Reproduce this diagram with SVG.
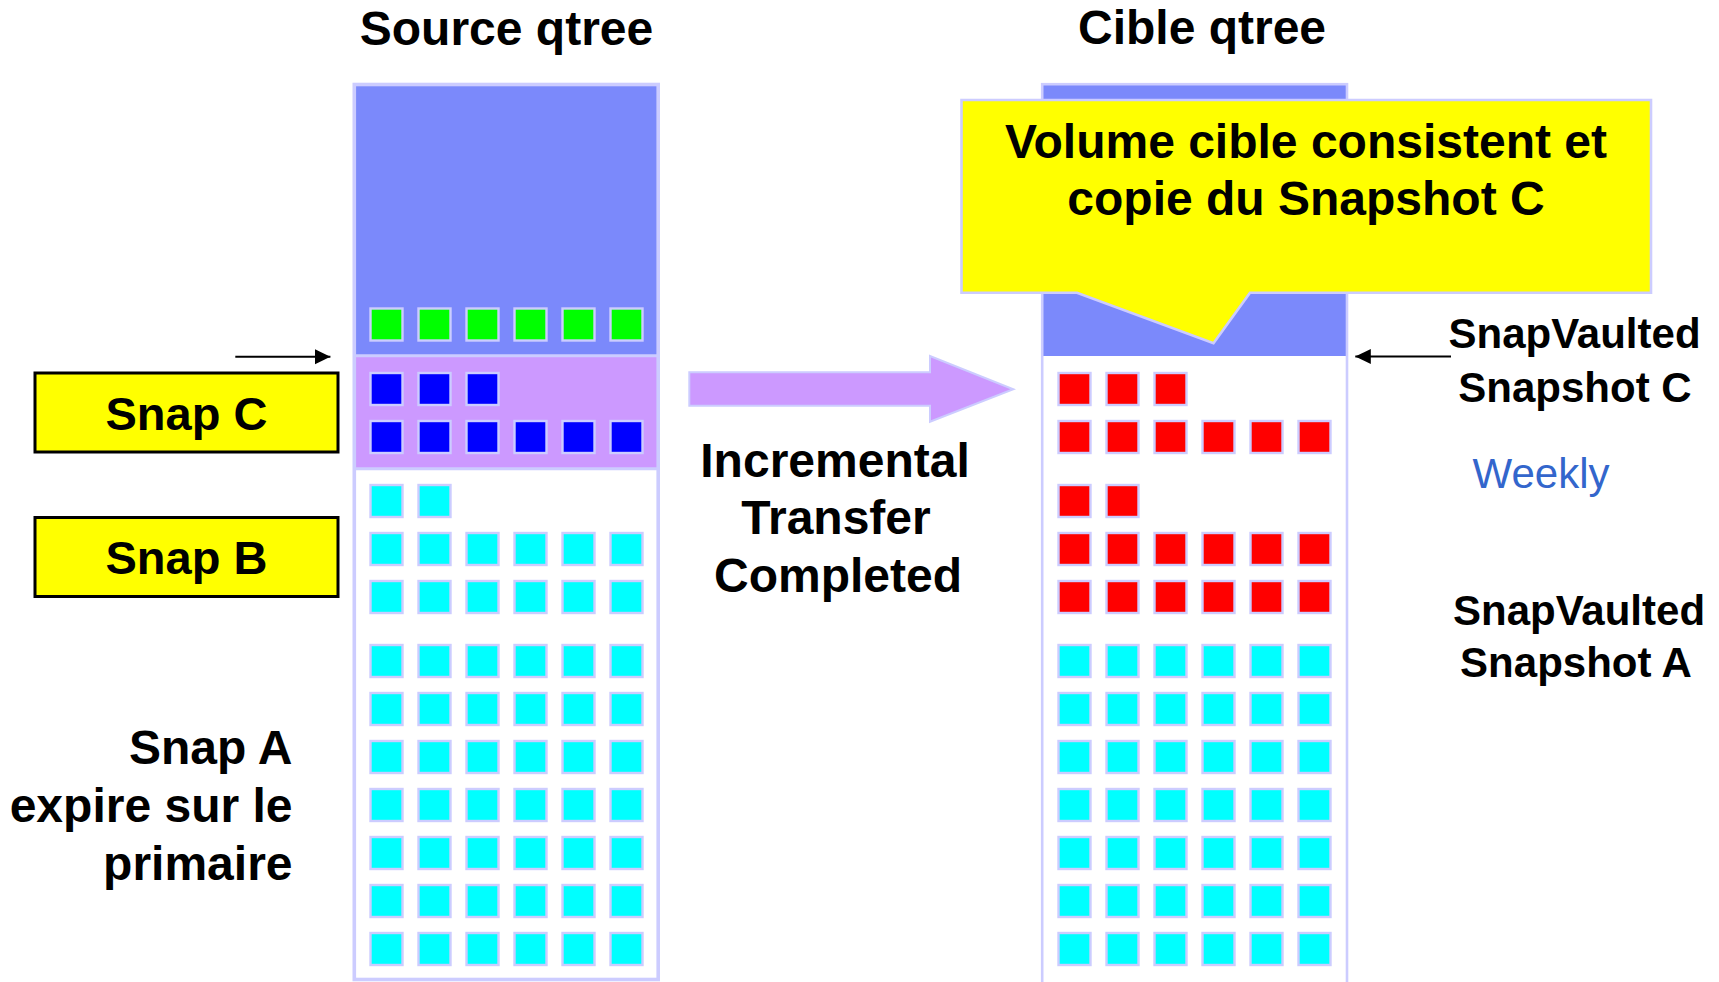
<svg xmlns="http://www.w3.org/2000/svg" xmlns:xlink="http://www.w3.org/1999/xlink" width="1719" height="982" viewBox="0 0 1719 982">
<style>
  .t { font-family: "Liberation Sans", Arial, sans-serif; font-weight: bold; fill: #000; }
  .t48 { font-size: 48px; }
  .t42 { font-size: 42px; }
  .weekly { font-family: "Liberation Sans", Arial, sans-serif; font-size: 42px; fill: #3366cc; }
  .sq rect { stroke: #ccccff; stroke-width: 2.4; }
  .col { fill: none; stroke: #ccccff; }
  .label { fill: #ffff00; stroke: #000; stroke-width: 3; }
  .conn { stroke: #000; stroke-width: 2; fill: none; }
</style>
<defs>
  <g id="row6" class="sq">
    <rect x="0" y="0" width="32" height="32"/>
    <rect x="48" y="0" width="32" height="32"/>
    <rect x="96" y="0" width="32" height="32"/>
    <rect x="144" y="0" width="32" height="32"/>
    <rect x="192" y="0" width="32" height="32"/>
    <rect x="240" y="0" width="32" height="32"/>
  </g>
  <g id="row3" class="sq">
    <rect x="0" y="0" width="32" height="32"/>
    <rect x="48" y="0" width="32" height="32"/>
    <rect x="96" y="0" width="32" height="32"/>
  </g>
  <g id="row2" class="sq">
    <rect x="0" y="0" width="32" height="32"/>
    <rect x="48" y="0" width="32" height="32"/>
  </g>
  <marker id="ah" markerUnits="userSpaceOnUse" markerWidth="16" markerHeight="16" refX="15.5" refY="7.5" orient="auto">
    <path d="M0,0 L15.5,7.5 L0,15 Z" fill="#000"/>
  </marker>
</defs>
<rect width="1719" height="982" fill="#fff"/>

<!-- titles -->
<text class="t t48" x="506.5" y="45" text-anchor="middle">Source qtree</text>
<text class="t t48" x="1202" y="44" text-anchor="middle">Cible qtree</text>

<!-- source column -->
<g id="source-qtree">
  <rect x="354.3" y="84.5" width="303.9" height="271.5" fill="#7b89fb"/>
  <rect x="354.3" y="356" width="303.9" height="112.5" fill="#cc99ff"/>
  <line x1="354.3" y1="355.8" x2="658.2" y2="355.8" stroke="#ccccff" stroke-width="3"/>
  <line x1="354.3" y1="468.7" x2="658.2" y2="468.7" stroke="#ccccff" stroke-width="3"/>
  <rect class="col" x="354.3" y="84.5" width="303.9" height="895" stroke-width="3.6"/>
  <use xlink:href="#row6" x="370.5" y="308.5" fill="#00ff00"/>
  <use xlink:href="#row3" x="370.5" y="373" fill="#0000ff"/>
  <use xlink:href="#row6" x="370.5" y="421" fill="#0000ff"/>
  <use xlink:href="#row2" x="370.5" y="485" fill="#00ffff"/>
  <use xlink:href="#row6" x="370.5" y="533" fill="#00ffff"/>
  <use xlink:href="#row6" x="370.5" y="581" fill="#00ffff"/>
  <use xlink:href="#row6" x="370.5" y="645" fill="#00ffff"/>
  <use xlink:href="#row6" x="370.5" y="693" fill="#00ffff"/>
  <use xlink:href="#row6" x="370.5" y="741" fill="#00ffff"/>
  <use xlink:href="#row6" x="370.5" y="789" fill="#00ffff"/>
  <use xlink:href="#row6" x="370.5" y="837" fill="#00ffff"/>
  <use xlink:href="#row6" x="370.5" y="885" fill="#00ffff"/>
  <use xlink:href="#row6" x="370.5" y="933" fill="#00ffff"/>
</g>

<!-- target column -->
<g id="cible-qtree">
  <rect x="1042.2" y="84.2" width="304.8" height="271.8" fill="#7b89fb"/>
  <rect class="col" x="1042.2" y="84.2" width="304.8" height="910" stroke-width="2.6"/>
  <use xlink:href="#row3" x="1058.5" y="373" fill="#ff0000"/>
  <use xlink:href="#row6" x="1058.5" y="421" fill="#ff0000"/>
  <use xlink:href="#row2" x="1058.5" y="485" fill="#ff0000"/>
  <use xlink:href="#row6" x="1058.5" y="533" fill="#ff0000"/>
  <use xlink:href="#row6" x="1058.5" y="581" fill="#ff0000"/>
  <use xlink:href="#row6" x="1058.5" y="645" fill="#00ffff"/>
  <use xlink:href="#row6" x="1058.5" y="693" fill="#00ffff"/>
  <use xlink:href="#row6" x="1058.5" y="741" fill="#00ffff"/>
  <use xlink:href="#row6" x="1058.5" y="789" fill="#00ffff"/>
  <use xlink:href="#row6" x="1058.5" y="837" fill="#00ffff"/>
  <use xlink:href="#row6" x="1058.5" y="885" fill="#00ffff"/>
  <use xlink:href="#row6" x="1058.5" y="933" fill="#00ffff"/>
</g>

<!-- callout -->
<g id="callout">
  <polygon points="961.5,100 1651,100 1651,292.7 1250,292.7 1213.5,343.3 1077,292.7 961.5,292.7" fill="#ffff00" stroke="#ccccff" stroke-width="2.6"/>
  <text class="t t48" x="1306" y="158.3" text-anchor="middle">Volume cible consistent et</text>
  <text class="t t48" x="1306" y="215" text-anchor="middle">copie du Snapshot C</text>
</g>

<!-- snap labels -->
<g id="snap-c">
  <rect class="label" x="35" y="373" width="303" height="79"/>
  <text class="t" font-size="47" x="186.4" y="430" text-anchor="middle">Snap C</text>
</g>
<g id="snap-b">
  <rect class="label" x="35" y="517.5" width="303" height="79"/>
  <text class="t" font-size="47" x="186.4" y="574" text-anchor="middle">Snap B</text>
</g>
<g id="snap-a">
  <text class="t t48" x="292.5" y="764" text-anchor="end">Snap A</text>
  <text class="t t48" x="292.5" y="821.7" text-anchor="end">expire sur le</text>
  <text class="t t48" x="292.5" y="880" text-anchor="end">primaire</text>
</g>

<!-- transfer label -->
<g id="transfer">
  <text class="t t48" x="835" y="476.7" text-anchor="middle">Incremental</text>
  <text class="t t48" x="836" y="534" text-anchor="middle">Transfer</text>
  <text class="t t48" x="838" y="591.7" text-anchor="middle">Completed</text>
</g>

<!-- right labels -->
<g id="snapvaulted-c">
  <text class="t t42" x="1574.5" y="348.3" text-anchor="middle">SnapVaulted</text>
  <text class="t t42" x="1575" y="401.7" text-anchor="middle">Snapshot C</text>
</g>
<g id="weekly">
  <text class="weekly" x="1541" y="488.3" text-anchor="middle">Weekly</text>
</g>
<g id="snapvaulted-a">
  <text class="t t42" x="1579" y="625" text-anchor="middle">SnapVaulted</text>
  <text class="t t42" x="1576" y="677.3" text-anchor="middle">Snapshot A</text>
</g>

<!-- connectors -->
<g id="connectors">
  <line class="conn" x1="235.3" y1="356.7" x2="330.4" y2="356.7" marker-end="url(#ah)"/>
  <line class="conn" x1="1451" y1="356.5" x2="1355.3" y2="356.5" marker-end="url(#ah)"/>
  <polygon points="689.3,372.3 930,372.3 930,356 1013.3,389.3 930,421.7 930,405.7 689.3,405.7" fill="#cc99ff" stroke="#ccccff" stroke-width="2"/>
</g>
</svg>
